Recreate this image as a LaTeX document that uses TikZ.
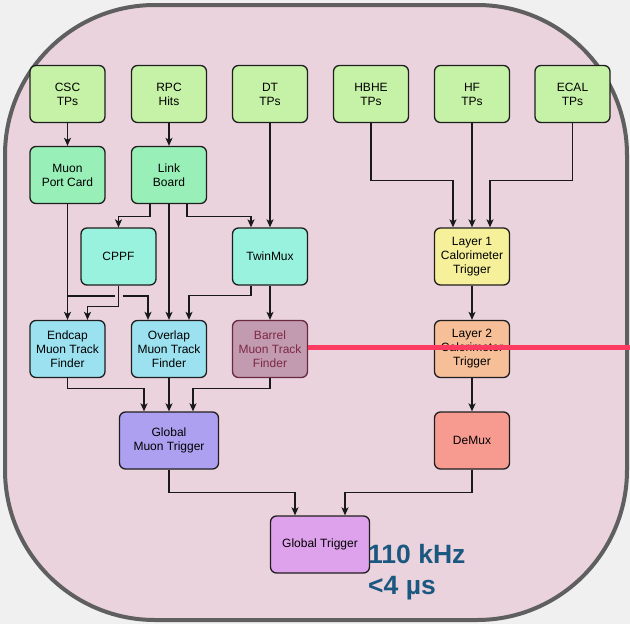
\documentclass[tikz,border=0pt]{standalone}
\usepackage{fontspec}
\setmainfont{Liberation Sans}
\usepackage{tikz}
\usetikzlibrary{
  positioning,
  arrows.meta,
  calc
}
\definecolor{PageGray}{RGB}{240,240,240}
\definecolor{FramePink}{RGB}{234,211,221}
\definecolor{FrameGray}{RGB}{95,95,95}
\definecolor{BoxLine}{RGB}{30,30,30}
\definecolor{TPGreen}{RGB}{197,242,166}
\definecolor{MidGreen}{RGB}{152,240,184}
\definecolor{Mint}{RGB}{152,242,221}
\definecolor{SkyBlue}{RGB}{156,225,240}
\definecolor{Mauve}{RGB}{194,155,177}
\definecolor{MauveLine}{RGB}{105,40,62}
\definecolor{MauveText}{RGB}{125,40,68}
\definecolor{LightYellow}{RGB}{245,240,153}
\definecolor{Peach}{RGB}{246,191,152}
\definecolor{Salmon}{RGB}{247,155,145}
\definecolor{Lavender}{RGB}{174,160,240}
\definecolor{Orchid}{RGB}{222,161,235}
\definecolor{CutRed}{RGB}{253,58,95}
\definecolor{RateBlue}{RGB}{27,88,128}

\begin{document}
\begin{tikzpicture}[x=1pt,y=-1pt,
  box/.style={draw=BoxLine,line width=1.3pt,rounded corners=6pt,
    minimum width=75pt,minimum height=57pt,inner sep=1pt,
    align=center,font=\fontsize{12}{14}\selectfont},
  tpbox/.style={box,fill=TPGreen},
  linkbox/.style={box,fill=MidGreen},
  muxbox/.style={box,fill=Mint},
  tfbox/.style={box,fill=SkyBlue},
  barrelbox/.style={box,fill=Mauve,draw=MauveLine,text=MauveText},
  globbox/.style={box,minimum width=99pt},
  arr/.style={-{Stealth[length=8pt,width=7pt,inset=2pt]},line width=1.2pt,black!90},
  cutline/.style={CutRed,line width=5pt},
  rate/.style={text=RateBlue,font=\fontsize{26.5}{30}\selectfont\bfseries,inner sep=0pt},
]
% —— background ——
\useasboundingbox (0,0) rectangle (630,624);
\fill[PageGray] (0,0) rectangle (630,624);
\draw[fill=FramePink,draw=FrameGray,line width=4pt,rounded corners=150pt]
  (5,5) rectangle (627,620);

% —— inputs ——
\node[tpbox] (CSC) at (67.5,94) {CSC\\TPs};
\node[tpbox] (RPC) at (169,94) {RPC\\Hits};
\node[tpbox] (DT) at (270,94) {DT\\TPs};
\node[tpbox] (HBHE) at (371,94) {HBHE\\TPs};
\node[tpbox] (HF) at (472,94) {HF\\TPs};
\node[tpbox] (ECAL) at (572.5,94) {ECAL\\TPs};

% —— muon chain ——
\node[linkbox] (MPC) at (67.5,175) {Muon\\Port Card};
\node[linkbox] (LB) at (169,175) {Link\\Board};
\node[muxbox] (CPPF) at (118.5,256.5) {CPPF};
\node[muxbox] (TwinMux) at (270,256.5) {TwinMux};
\node[tfbox] (EMTF) at (67.5,349) {Endcap\\Muon Track\\Finder};
\node[tfbox] (OMTF) at (169,349) {Overlap\\Muon Track\\Finder};
\node[barrelbox] (BMTF) at (270,349) {Barrel\\Muon Track\\Finder};
\node[globbox,fill=Lavender] (GMT) at (169,440.5) {Global\\Muon Trigger};

% —— calorimeter chain ——
\node[box,fill=LightYellow] (LayerOne) at (472,256.5) {Layer 1\\Calorimeter\\Trigger};
\node[box,fill=Peach] (LayerTwo) at (472,349) {Layer 2\\Calorimeter\\Trigger};
\node[box,fill=Salmon] (DeMux) at (472,440.5) {DeMux};

\node[globbox,fill=Orchid] (GT) at (320,544.5) {Global Trigger};
\node[rate,anchor=base west] (rate) at (368,563) {110 kHz};
\node[rate,anchor=base west] (latency) at (368,594) {<4 µs};

\foreach \s/\t in {CSC/MPC,RPC/LB,DT/TwinMux,MPC/EMTF,LB/OMTF,TwinMux/BMTF,
    OMTF/GMT,HF/LayerOne,LayerOne/LayerTwo,LayerTwo/DeMux}
  \draw[arr] (\s)--(\t);
\draw[arr] ([xshift=-19pt]LB.south) -- ++(0,12) -| (CPPF.north);
\draw[arr] ([xshift=18pt]LB.south) -- ++(0,12) -| ([xshift=-19pt]TwinMux.north);
\draw[arr] (CPPF.south) -- ++(0,21) -| ([xshift=20pt]EMTF.north);
\coordinate (hop) at (118.5,296);
\draw[arr] (MPC.south) |- ([xshift=-4pt]hop) ([xshift=4pt]hop) -| ([xshift=-21pt]OMTF.north);
\draw[arr] ([xshift=-19pt]TwinMux.south) -- ++(0,10) -| ([xshift=20pt]OMTF.north);
\draw[arr] (EMTF.south) -- ++(0,10) -| ([xshift=-25pt]GMT.north);
\draw[arr] (BMTF.south) -- ++(0,10) -| ([xshift=24pt]GMT.north);
\draw[arr] (HBHE.south) -- ++(0,57) -| ([xshift=-19pt]LayerOne.north);
\draw[arr] (ECAL.south) -- ++(0,57) -| ([xshift=18pt]LayerOne.north);
\draw[arr] (GMT.south) -- ++(0,23) -| ([xshift=-25pt]GT.north);
\draw[arr] (DeMux.south) -- ++(0,23) -| ([xshift=25pt]GT.north);

% —— cut ——
\coordinate (cut) at (630,347);
\draw[cutline] (BMTF.east |- cut) -- (cut);
\end{tikzpicture}
\end{document}
